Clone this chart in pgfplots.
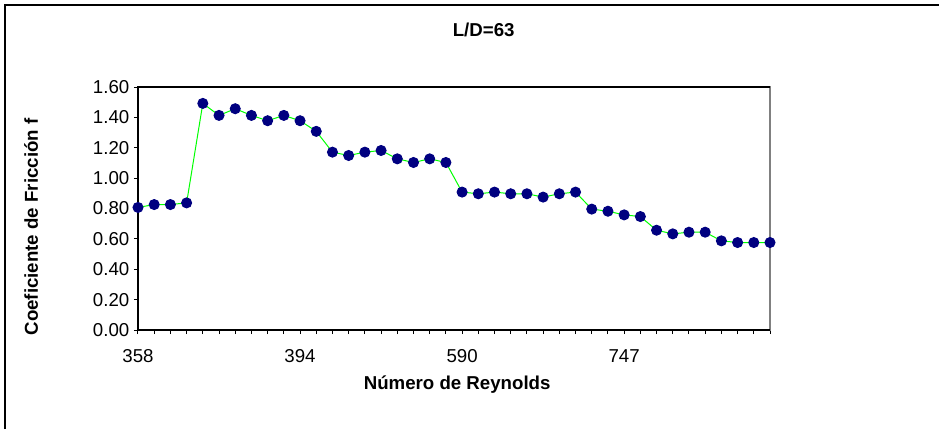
\documentclass[border=0pt]{standalone}
\usepackage{fontspec}
\setmainfont{Liberation Sans}
\usepackage{pgfplots}
\pgfplotsset{compat=1.18}

% friction factor vs Reynolds number, one value per category (0..39)
\pgfplotstableread{
idx f
0  0.807
1  0.826
2  0.826
3  0.837
4  1.492
5  1.413
6  1.457
7  1.413
8  1.378
9  1.413
10 1.378
11 1.308
12 1.171
13 1.149
14 1.171
15 1.182
16 1.127
17 1.103
18 1.127
19 1.103
20 0.908
21 0.897
22 0.908
23 0.897
24 0.897
25 0.875
26 0.897
27 0.908
28 0.796
29 0.782
30 0.758
31 0.747
32 0.657
33 0.633
34 0.644
35 0.644
36 0.587
37 0.576
38 0.576
39 0.576
}\fdata

\definecolor{mknavy}{RGB}{0,0,128}
\definecolor{lngreen}{RGB}{0,255,0}

\begin{document}
\begin{tikzpicture}
\useasboundingbox (0,0) rectangle (704.25pt,321.75pt);
\draw[line width=1pt] (3.75pt,0) -- (3.75pt,318pt) -- (704.25pt,318pt);
\begin{axis}[
    at={(103.5pt,74.25pt)}, anchor=south west,
    scale only axis, width=474pt, height=182.25pt,
    xmin=0, xmax=39, ymin=0, ymax=1.6,
    font=\fontsize{14pt}{16pt}\selectfont,
    axis line style={draw=gray, line width=0.9pt},
    xtick={0,...,39},
    xticklabels={358,,,,,,,,,,394,,,,,,,,,,590,,,,,,,,,,747},
    ytick={0,0.2,...,1.6},
    yticklabel style={/pgf/number format/.cd, fixed, fixed zerofill, precision=2, assume math mode=true},
    xticklabel style={/pgf/number format/assume math mode=true, yshift=-8pt},
    tick align=outside, major tick length=3pt,
    tick style={black, line width=0.75pt},
    xtick pos=bottom, ytick pos=left,
    every axis title shift=0pt,
    title={\bfseries L/D=63},
    title style={at={(axis description cs:0.547,1.2346)}, anchor=center},
    xlabel={\bfseries Número de Reynolds},
    xlabel style={at={(axis description cs:0.505,-0.226)}, anchor=center},
    ylabel={\bfseries Coeficiente de Fricción f},
    ylabel style={at={(axis description cs:-0.169,0.424)}, anchor=center, rotate=0},
    clip=false,
]
\addplot[color=lngreen, line width=0.75pt, mark=*, mark size=3.75pt,
    mark options={draw=mknavy, fill=mknavy}] table[x=idx, y=f] {\fdata};
\draw[black, line width=0.9pt] (rel axis cs:1,1) -- (rel axis cs:0,1) -- (rel axis cs:0,0) -- (rel axis cs:1,0);
\end{axis}
\end{tikzpicture}
\end{document}
